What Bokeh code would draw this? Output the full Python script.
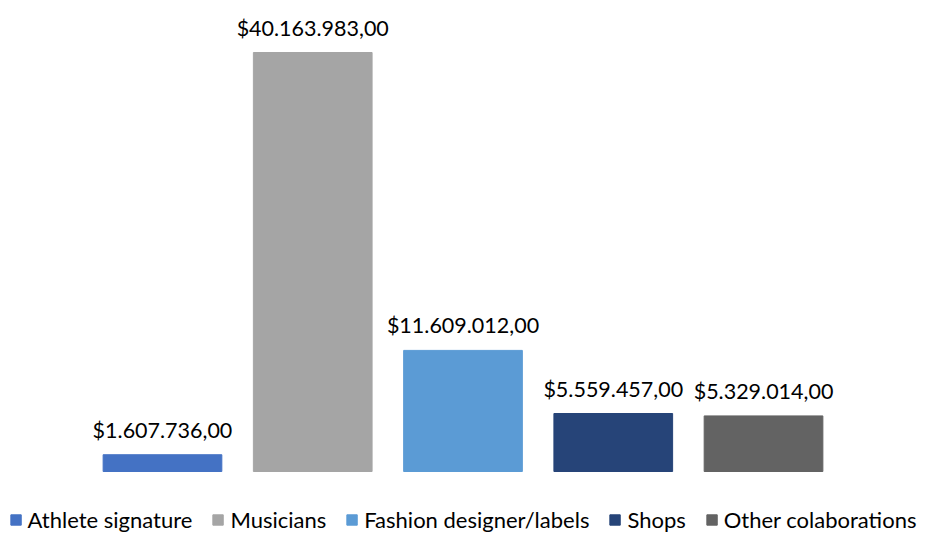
from bokeh.plotting import figure
from bokeh.models import ColumnDataSource, FactorRange, Legend, LegendItem
from bokeh.core.properties import value
from bokeh.embed import file_html
from bokeh.resources import INLINE

categories = ["Athlete signature", "Musicians", "Fashion designer/labels", "Shops", "Other colaborations"]
values = [1607736.00, 40163983.00, 11609012.00, 5559457.00, 5329014.00]
colors = ["#4472C4", "#A5A5A5", "#5B9BD5", "#264478", "#636363"]

def fmt(v):
    s = f"{v:,.2f}"
    return "$" + s.replace(",", "X").replace(".", ",").replace("X", ".")

labels = [fmt(v) for v in values]

src = ColumnDataSource(dict(cat=categories, val=values, color=colors, label=labels))

px_per = 419 / 40163983.0
y_top = 461 / px_per
y_bot = -62 / px_per

p = figure(width=925, height=533, x_range=FactorRange(*categories, range_padding=0.578, range_padding_units="absolute"),
           y_range=(y_bot, y_top), output_backend="svg", toolbar_location=None,
           min_border=0, min_border_top=10, min_border_left=0, min_border_right=0, min_border_bottom=0)
p.axis.visible = False
p.grid.visible = False
p.outline_line_color = None
p.background_fill_color = "white"

r = p.vbar(x="cat", top="val", bottom=0, width=0.79, color="color", source=src)

p.text(x="cat", y="val", text="label", source=src, text_align="center", text_baseline="bottom",
       y_offset=-12, text_font=value("Lato"), text_font_size="21.5px", text_color="#000000")

items = [LegendItem(label=c, renderers=[r], index=i) for i, c in enumerate(categories)]
leg = Legend(items=items, orientation="horizontal", location="bottom_center",
             label_text_font="Lato", label_text_font_size="22px", label_text_color="#000000",
             glyph_width=13, glyph_height=13, label_standoff=6, spacing=19, padding=0, margin=0,
             border_line_color=None, background_fill_alpha=0)
p.add_layout(leg, "center")

open("out.html", "w").write(file_html(p, INLINE))
